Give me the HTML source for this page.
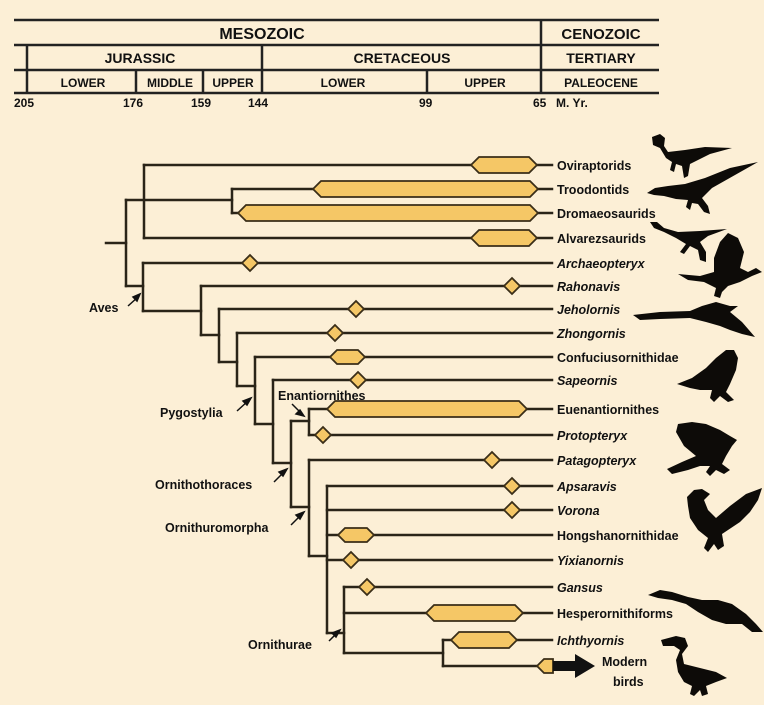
<!DOCTYPE html>
<html><head><meta charset="utf-8"><style>
html,body{margin:0;padding:0;background:#fcefd6;}
svg{display:block;}
text{font-family:"Liberation Sans",Arial,sans-serif;font-weight:bold;fill:#111;}
.i{font-style:italic;}
</style></head><body>
<svg width="764" height="705" viewBox="0 0 764 705" xmlns="http://www.w3.org/2000/svg">
<rect width="764" height="705" fill="#fcefd6"/>
<g stroke="#222" stroke-width="2.5" fill="none">
<line x1="14" y1="20" x2="659" y2="20"/>
<line x1="14" y1="45" x2="659" y2="45"/>
<line x1="14" y1="70" x2="659" y2="70"/>
<line x1="14" y1="93" x2="659" y2="93"/>
<line x1="541" y1="20" x2="541" y2="93"/>
<line x1="27" y1="45" x2="27" y2="93"/>
<line x1="262" y1="45" x2="262" y2="93"/>
<line x1="136" y1="70" x2="136" y2="93"/>
<line x1="203" y1="70" x2="203" y2="93"/>
<line x1="427" y1="70" x2="427" y2="93"/>
</g>
<g text-anchor="middle">
<text x="262" y="39" font-size="16">MESOZOIC</text>
<text x="601" y="39" font-size="15">CENOZOIC</text>
<text x="140" y="63" font-size="14">JURASSIC</text>
<text x="402" y="63" font-size="14">CRETACEOUS</text>
<text x="601" y="63" font-size="14">TERTIARY</text>
<text x="83" y="87" font-size="12">LOWER</text>
<text x="170" y="87" font-size="12">MIDDLE</text>
<text x="233" y="87" font-size="12">UPPER</text>
<text x="343" y="87" font-size="12">LOWER</text>
<text x="485" y="87" font-size="12">UPPER</text>
<text x="601" y="87" font-size="12">PALEOCENE</text>
</g>
<g font-size="12">
<text x="14" y="107">205</text>
<text x="123" y="107">176</text>
<text x="191" y="107">159</text>
<text x="248" y="107">144</text>
<text x="419" y="107">99</text>
<text x="533" y="107">65</text>
<text x="556" y="107">M. Yr.</text>
</g>
<g stroke="#2a2418" stroke-width="2.5" fill="none" stroke-linecap="square">
<line x1="106" y1="243" x2="126" y2="243"/>
<line x1="126" y1="200" x2="126" y2="286"/>
<line x1="126" y1="286" x2="143" y2="286"/>
<line x1="144" y1="165" x2="144" y2="238"/>
<line x1="126" y1="200" x2="232" y2="200"/>
<line x1="232" y1="189" x2="232" y2="213"/>
<line x1="144" y1="165" x2="552" y2="165"/>
<line x1="232" y1="189" x2="552" y2="189"/>
<line x1="232" y1="213" x2="552" y2="213"/>
<line x1="144" y1="238" x2="552" y2="238"/>
<line x1="143" y1="263" x2="143" y2="311"/>
<line x1="143" y1="263" x2="552" y2="263"/>
<line x1="143" y1="311" x2="201" y2="311"/>
<line x1="201" y1="286" x2="201" y2="335"/>
<line x1="201" y1="286" x2="552" y2="286"/>
<line x1="201" y1="335" x2="219" y2="335"/>
<line x1="219" y1="309" x2="219" y2="362"/>
<line x1="219" y1="309" x2="552" y2="309"/>
<line x1="219" y1="362" x2="237" y2="362"/>
<line x1="237" y1="333" x2="237" y2="386"/>
<line x1="237" y1="333" x2="552" y2="333"/>
<line x1="237" y1="386" x2="255" y2="386"/>
<line x1="255" y1="357" x2="255" y2="424"/>
<line x1="255" y1="357" x2="552" y2="357"/>
<line x1="255" y1="424" x2="273" y2="424"/>
<line x1="273" y1="380" x2="273" y2="463"/>
<line x1="273" y1="380" x2="552" y2="380"/>
<line x1="273" y1="463" x2="291" y2="463"/>
<line x1="291" y1="421" x2="291" y2="507"/>
<line x1="291" y1="421" x2="309" y2="421"/>
<line x1="309" y1="409" x2="309" y2="435"/>
<line x1="309" y1="409" x2="552" y2="409"/>
<line x1="309" y1="435" x2="552" y2="435"/>
<line x1="291" y1="507" x2="309" y2="507"/>
<line x1="309" y1="460" x2="309" y2="556"/>
<line x1="309" y1="460" x2="552" y2="460"/>
<line x1="309" y1="556" x2="327" y2="556"/>
<line x1="327" y1="486" x2="327" y2="633"/>
<line x1="327" y1="486" x2="552" y2="486"/>
<line x1="327" y1="510" x2="552" y2="510"/>
<line x1="327" y1="535" x2="552" y2="535"/>
<line x1="327" y1="560" x2="552" y2="560"/>
<line x1="327" y1="633" x2="344" y2="633"/>
<line x1="344" y1="587" x2="344" y2="653"/>
<line x1="344" y1="587" x2="552" y2="587"/>
<line x1="344" y1="613" x2="552" y2="613"/>
<line x1="344" y1="653" x2="443" y2="653"/>
<line x1="443" y1="640" x2="443" y2="666"/>
<line x1="443" y1="640" x2="552" y2="640"/>
<line x1="443" y1="666" x2="540" y2="666"/>
</g>
<g fill="#f5c766" stroke="#3a2e18" stroke-width="1.8">
<polygon points="471,165 479,157 529,157 537,165 529,173 479,173"/>
<polygon points="313,189 321,181 530,181 538,189 530,197 321,197"/>
<polygon points="238,213 246,205 530,205 538,213 530,221 246,221"/>
<polygon points="471,238 479,230 529,230 537,238 529,246 479,246"/>
<polygon points="330,357 337,350 358,350 365,357 358,364 337,364"/>
<polygon points="327,409 335,401 519,401 527,409 519,417 335,417"/>
<polygon points="338,535 345,528 367,528 374,535 367,542 345,542"/>
<polygon points="426,613 434,605 515,605 523,613 515,621 434,621"/>
<polygon points="451,640 459,632 509,632 517,640 509,648 459,648"/>
<polygon points="537,666 544,659 553,659 553,673 544,673"/>
<polygon points="250,255 258,263 250,271 242,263"/>
<polygon points="512,278 520,286 512,294 504,286"/>
<polygon points="356,301 364,309 356,317 348,309"/>
<polygon points="335,325 343,333 335,341 327,333"/>
<polygon points="358,372 366,380 358,388 350,380"/>
<polygon points="323,427 331,435 323,443 315,435"/>
<polygon points="492,452 500,460 492,468 484,460"/>
<polygon points="512,478 520,486 512,494 504,486"/>
<polygon points="512,502 520,510 512,518 504,510"/>
<polygon points="351,552 359,560 351,568 343,560"/>
<polygon points="367,579 375,587 367,595 359,587"/>
</g>
<polygon points="553,661 575,661 575,654 595,666 575,678 575,671 553,671" fill="#111"/>
<g font-size="12.5">
<text x="557" y="170">Oviraptorids</text>
<text x="557" y="194">Troodontids</text>
<text x="557" y="218">Dromaeosaurids</text>
<text x="557" y="243">Alvarezsaurids</text>
<text x="557" y="268" class="i">Archaeopteryx</text>
<text x="557" y="291" class="i">Rahonavis</text>
<text x="557" y="314" class="i">Jeholornis</text>
<text x="557" y="338" class="i">Zhongornis</text>
<text x="557" y="362">Confuciusornithidae</text>
<text x="557" y="385" class="i">Sapeornis</text>
<text x="557" y="414">Euenantiornithes</text>
<text x="557" y="440" class="i">Protopteryx</text>
<text x="557" y="465" class="i">Patagopteryx</text>
<text x="557" y="491" class="i">Apsaravis</text>
<text x="557" y="515" class="i">Vorona</text>
<text x="557" y="540">Hongshanornithidae</text>
<text x="557" y="565" class="i">Yixianornis</text>
<text x="557" y="592" class="i">Gansus</text>
<text x="557" y="618">Hesperornithiforms</text>
<text x="557" y="645" class="i">Ichthyornis</text>
<text x="602" y="666">Modern</text>
<text x="613" y="686">birds</text>
<text x="89" y="312">Aves</text>
<text x="160" y="417">Pygostylia</text>
<text x="278" y="400">Enantiornithes</text>
<text x="155" y="489">Ornithothoraces</text>
<text x="165" y="532">Ornithuromorpha</text>
<text x="248" y="649">Ornithurae</text>
</g>
<g stroke="#111" stroke-width="1.5">
<line x1="128" y1="306" x2="138" y2="297"/><polygon points="140,294 133,297 137,301" fill="#111"/>
<line x1="237" y1="411" x2="248" y2="401"/><polygon points="251,398 243,401 247,405" fill="#111"/>
<line x1="274" y1="482" x2="284" y2="472"/><polygon points="287,469 279,472 283,476" fill="#111"/>
<line x1="291" y1="525" x2="301" y2="515"/><polygon points="304,512 296,515 300,519" fill="#111"/>
<line x1="292" y1="404" x2="301" y2="413"/><polygon points="304,416 296,414 300,410" fill="#111"/>
<line x1="329" y1="641" x2="337" y2="633"/><polygon points="340,630 332,633 336,637" fill="#111"/>
</g>
<g fill="#0d0b08">
<!-- oviraptor -->
<path d="M652,137 L660,134 L665,138 L664,146 L668,152 L685,150 L705,147 L732,148 L710,154 L698,160 L690,164 L688,176 L684,178 L682,166 L676,164 L674,172 L670,170 L672,162 L666,158 L660,148 L653,145 Z"/>
<!-- troodontid -->
<path d="M647,193 L655,188 L668,186 L685,184 L705,178 L730,168 L758,162 L735,175 L712,188 L702,198 L708,206 L710,214 L704,212 L698,204 L692,203 L690,210 L686,207 L688,200 L676,199 L664,196 L654,195 Z"/>
<!-- third -->
<path d="M650,222 L657,222 L664,228 L678,232 L700,231 L727,229 L708,236 L700,242 L706,252 L706,262 L700,260 L698,250 L690,246 L684,254 L680,252 L686,244 L676,238 L664,232 L654,228 Z"/>
<!-- archaeopteryx -->
<path d="M678,274 L700,276 L714,272 L714,258 L720,242 L728,233 L738,238 L744,252 L740,268 L748,272 L756,268 L762,272 L752,276 L740,282 L728,286 L722,292 L720,298 L714,296 L716,288 L704,282 L688,280 Z"/>
<!-- jeholornis -->
<path d="M633,315 L660,312 L690,311 L702,306 L716,302 L730,306 L738,306 L730,312 L742,322 L755,337 L742,334 L730,330 L720,326 L706,322 L690,318 L660,319 L640,320 Z"/>
<!-- confucius -->
<path d="M677,384 L692,378 L706,368 L716,358 L726,350 L734,350 L738,358 L736,370 L730,384 L726,392 L734,400 L728,402 L720,396 L714,402 L710,398 L712,390 L700,390 L690,388 Z"/>
<!-- protopteryx -->
<path d="M667,469 L682,462 L696,456 L684,446 L676,432 L678,424 L692,422 L706,424 L720,430 L730,436 L737,440 L732,446 L726,456 L722,464 L730,470 L724,474 L716,470 L710,476 L706,472 L710,466 L700,466 L688,470 L672,474 Z"/>
<!-- bird 8 -->
<path d="M687,497 L694,490 L702,489 L710,494 L704,500 L708,510 L716,518 L730,506 L746,494 L762,488 L758,500 L750,512 L740,522 L728,530 L722,534 L724,546 L718,550 L714,544 L708,552 L704,548 L708,538 L698,530 L690,518 L688,506 Z"/>
<!-- hesperornis -->
<path d="M648,595 L660,590 L672,592 L688,597 L702,600 L718,600 L732,604 L746,614 L756,624 L763,632 L752,632 L742,624 L726,624 L712,620 L698,612 L686,604 L672,600 L658,598 Z"/>
<!-- modern -->
<path d="M661,640 L676,636 L685,638 L688,646 L682,654 L684,664 L700,668 L716,672 L727,678 L716,682 L706,686 L708,694 L702,696 L700,690 L694,696 L690,694 L692,686 L684,682 L678,672 L676,660 L680,650 L674,646 L663,646 Z"/>
</g>
</svg>
</body></html>
